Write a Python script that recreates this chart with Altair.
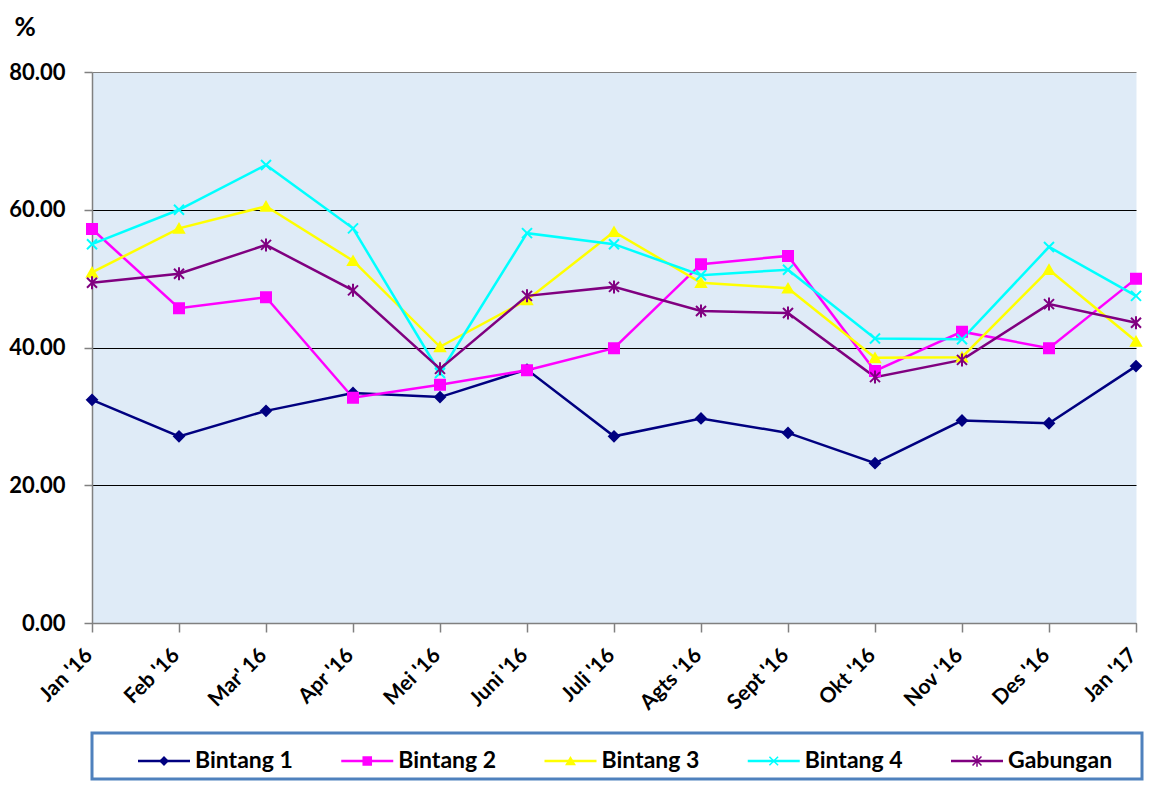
import altair as alt
import pandas as pd

months = ["Jan '16", "Feb '16", "Mar' 16", "Apr '16", "Mei '16", "Juni '16", "Juli '16",
          "Agts '16", "Sept '16", "Okt '16", "Nov '16", "Des '16", "Jan '17"]
series = ["Bintang 1", "Bintang 2", "Bintang 3", "Bintang 4", "Gabungan"]

bintang1 = [32.4, 27.1, 30.8, 33.4, 32.8, 36.8, 27.1, 29.7, 27.6, 23.2, 29.4, 29.0, 37.3]
bintang2 = [57.2, 45.7, 47.3, 32.7, 34.6, 36.7, 39.9, 52.1, 53.3, 36.6, 42.3, 39.9, 50.0]
bintang3 = [50.9, 57.3, 60.5, 52.6, 40.1, 46.9, 56.8, 49.4, 48.6, 38.5, 38.6, 51.3, 40.9]
bintang4 = [55.0, 60.0, 66.5, 57.3, 36.3, 56.6, 55.0, 50.5, 51.3, 41.3, 41.2, 54.6, 47.5]
gabungan = [49.4, 50.7, 54.9, 48.3, 36.9, 47.5, 48.8, 45.3, 45.0, 35.7, 38.2, 46.3, 43.6]

y_ticks = [0, 20, 40, 60, 80]

colors = ["#000080", "#ff00ff", "#ffff00", "#00ffff", "#800080"]
shapes = ["diamond", "square", "triangle-up",
          "M-1,-1L1,1M-1,1L1,-1",
          "M-1,-1L1,1M-1,1L1,-1M0,-1.3L0,1.3"]
sizes_main = [100, 100, 130, 100, 100]
sizes_legend = [60, 80, 90, 64, 64]

rows = []
for s, vals in zip(series, [bintang1, bintang2, bintang3, bintang4, gabungan]):
    for i, (m, v) in enumerate(zip(months, vals)):
        rows.append({"series": s, "month": m, "value": v, "order": i})
df = pd.DataFrame(rows)

FONT = "Lato"

color_scale = alt.Scale(domain=series, range=colors)
shape_scale = alt.Scale(domain=series, range=shapes)

x_enc = alt.X(
    "month:N", sort=months,
    scale=alt.Scale(type="point", padding=0),
    axis=alt.Axis(
        title=None, labelAngle=-45, labelAlign="right", labelBaseline="middle",
        labelFont=FONT, labelFontSize=21, labelFontWeight="bold", labelColor="#000000",
        labelPadding=20, labelOffset=-3, tickSize=9, tickColor="#808080", tickWidth=1.5,
        domainColor="#808080", domainWidth=1.5, grid=False, labelOverlap=False,
    ),
)
y_enc = alt.Y(
    "value:Q",
    scale=alt.Scale(domain=[0, 80], nice=False),
    axis=alt.Axis(
        values=y_ticks, format=".2f", title="%", titleAngle=0, titleX=-78, titleY=-58,
        titleAlign="left", titleBaseline="top", titleFont=FONT, titleFontSize=26,
        titleFontWeight="bold", titleColor="#000000",
        labelFont=FONT, labelFontSize=22, labelFontWeight="bold", labelColor="#000000",
        labelPadding=19, tickSize=8, tickColor="#808080", tickWidth=1.5,
        domainColor="#808080", domainWidth=1.5,
        grid=True,
        gridColor={"condition": {"test": "datum.value == 80", "value": "#808080"}, "value": "#000000"},
        gridWidth=1.2,
    ),
)

base = alt.Chart(df)
lines = base.mark_line(strokeWidth=2.5).encode(
    x=x_enc, y=y_enc,
    color=alt.Color("series:N", scale=color_scale, legend=None),
    order=alt.Order("order:Q"),
)
points = base.mark_point(filled=True, opacity=1, strokeWidth=2).encode(
    x=x_enc, y=y_enc,
    color=alt.Color("series:N", scale=color_scale, legend=None),
    stroke=alt.Stroke("series:N", scale=color_scale, legend=None),
    shape=alt.Shape("series:N", scale=shape_scale, legend=None),
    size=alt.Size("series:N", scale=alt.Scale(domain=series, range=sizes_main), legend=None),
)

main = alt.layer(lines, points).properties(
    width=1044, height=551,
    view=alt.ViewBackground(fill="#dfebf7", strokeOpacity=0),
)

leg_df = pd.DataFrame({"series": series})
lx = alt.X("series:N", sort=series,
           scale=alt.Scale(type="point", padding=0, range=[72, 885]), axis=None)
leg_base = alt.Chart(leg_df)
leg_line = leg_base.mark_point(shape="M-1,0L1,0", size=2704, strokeWidth=2.5, opacity=1,
                               filled=False, yOffset=5).encode(
    x=lx, color=alt.Color("series:N", scale=color_scale, legend=None))
leg_pts = leg_base.mark_point(filled=True, opacity=1, strokeWidth=1.5, yOffset=5).encode(
    x=lx,
    color=alt.Color("series:N", scale=color_scale, legend=None),
    stroke=alt.Stroke("series:N", scale=color_scale, legend=None),
    shape=alt.Shape("series:N", scale=shape_scale, legend=None),
    size=alt.Size("series:N", scale=alt.Scale(domain=series, range=sizes_legend), legend=None),
)
leg_txt = leg_base.mark_text(align="left", baseline="middle", dx=31, yOffset=5, font=FONT,
                             fontSize=23, fontWeight="bold", color="#000000").encode(
    x=lx, text="series:N")
legend = alt.layer(leg_line, leg_pts, leg_txt).properties(
    width=1050, height=46,
    view=alt.ViewBackground(fill="#ffffff", stroke="#4f81bd", strokeWidth=3),
)

chart = alt.vconcat(main, legend, spacing=17).resolve_scale(
    size="independent", x="independent"
).properties(
    padding={"top": 6, "left": 0, "right": 0, "bottom": 0}, background="#ffffff"
).configure(font=FONT)

chart.save("out.html", embed_options={"renderer": "svg", "actions": False})
